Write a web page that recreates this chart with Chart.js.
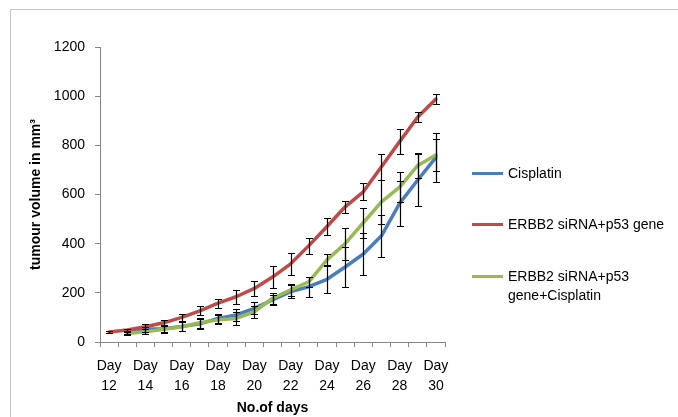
<!DOCTYPE html>
<html>
<head>
<meta charset="utf-8">
<script src="https://cdn.jsdelivr.net/npm/chart.js@4"></script>
<style>
  body { margin: 0; background: #fff; font-family: "Liberation Sans", Arial, sans-serif; }
  #wrap { position: relative; width: 678px; height: 417px; overflow: hidden; }
  #frame { position: absolute; left: 10px; top: 9px; right: -5px; bottom: -5px;
           border-left: 1px solid #c4c4c4; border-top: 1px solid #c4c4c4; }
  canvas { position: absolute; left: 0; top: 0; }
  .key { position: absolute; left: 472px; font-size: 14px; color: #000; line-height: 19px; }
  .key i { position: absolute; left: 0; top: 8px; width: 31px; height: 3px; }
  .key span { display: block; margin-left: 36px; white-space: nowrap; }
</style>
</head>
<body>
<div id="wrap">
  <div id="frame"></div>
  <canvas id="growth" width="678" height="417"></canvas>
  <div class="key" style="top:164px"><i style="background:#4a7ebb"></i><span>Cisplatin</span></div>
  <div class="key" style="top:215px"><i style="background:#be4b48"></i><span>ERBB2 siRNA+p53 gene</span></div>
  <div class="key" style="top:267px"><i style="background:#98b954"></i><span>ERBB2 siRNA+p53<br>gene+Cisplatin</span></div>
</div>
<script>
const days = [12, 13, 14, 15, 16, 17, 18, 19, 20, 21, 22, 23, 24, 25, 26, 27, 28, 29, 30];

const cisplatin      = [null, 38, 52, 54, 63, 74, 96, 110, 137, 171, 205, 225, 255, 305, 358, 432, 564, 659, 751];
const cisplatinErr   = [null, 5, 10, 15, 18, 20, 18, 25, 25, 22, 25, 40, 57, 80, 85, 85, 92, 105, 100];

const sirnaP53       = [41, 49, 62, 78, 100, 127, 158, 184, 218, 264, 318, 392, 470, 550, 611, 713, 815, 915, 988];
const sirnaP53Err    = [3, 5, 10, 12, 15, 18, 18, 28, 29, 46, 44, 33, 34, 25, 34, 53, 50, 20, 20];

const sirnaP53Cis    = [null, 35, 42, 52, 62, 78, 90, 96, 123, 178, 212, 245, 334, 400, 485, 570, 630, 718, 761];
const sirnaP53CisErr = [null, 5, 10, 15, 18, 20, 18, 25, 25, 22, 25, 20, 24, 65, 60, 90, 60, 50, 65];

const axisGrey = "#868686";
const font = "'Liberation Sans', Arial, sans-serif";

// vertical whiskers with caps, drawn from each dataset's `errors` array
const errorBars = {
	id: "errorBars",
	afterDatasetsDraw(chart) {
		const { ctx } = chart;
		const y = chart.scales.y;
		ctx.save();
		ctx.strokeStyle = "#000";
		ctx.lineWidth = 1.2;
		chart.data.datasets.forEach((ds, di) => {
			const meta = chart.getDatasetMeta(di);
			ds.errors.forEach((e, i) => {
				const v = ds.data[i];
				if (v == null || e == null) return;
				const x = Math.round(meta.data[i].x) + 0.5;
				const top = Math.round(y.getPixelForValue(v + e)) + 0.5;
				const bot = Math.round(y.getPixelForValue(v - e)) + 0.5;
				ctx.beginPath();
				ctx.moveTo(x, top);
				ctx.lineTo(x, bot);
				ctx.moveTo(x - 3.5, top);
				ctx.lineTo(x + 3.5, top);
				ctx.moveTo(x - 3.5, bot);
				ctx.lineTo(x + 3.5, bot);
				ctx.stroke();
			});
		});
		ctx.restore();
	},
};

function series(label, data, errors, color, order) {
	return {
		label,
		data,
		errors,
		borderColor: color,
		backgroundColor: color,
		borderWidth: 3.5,
		borderJoinStyle: "round",
		borderCapStyle: "round",
		pointRadius: 0,
		tension: 0,
		order,
	};
}

new Chart(document.getElementById("growth"), {
	type: "line",
	data: {
		labels: days.map((d) => "Day " + d),
		datasets: [
			series("Cisplatin", cisplatin, cisplatinErr, "#4a7ebb", 2),
			series("ERBB2 siRNA+p53 gene", sirnaP53, sirnaP53Err, "#be4b48", 1),
			series("ERBB2 siRNA+p53 gene+Cisplatin", sirnaP53Cis, sirnaP53CisErr, "#98b954", 0),
		],
	},
	plugins: [errorBars],
	options: {
		responsive: false,
		animation: false,
		layout: { padding: { left: 0, right: 233, top: 47, bottom: 0 } },
		plugins: {
			legend: { display: false },
			tooltip: { enabled: false },
		},
		scales: {
			x: {
				offset: true,
				afterFit: (s) => { s.height = 75; },
				grid: {
					offset: true,
					drawOnChartArea: false,
					color: axisGrey,
					tickLength: 5,
				},
				border: { color: axisGrey, width: 1 },
				ticks: {
					autoSkip: false,
					maxRotation: 0,
					padding: 9,
					color: "#000",
					font: { family: font, size: 14, lineHeight: 1.43 },
					callback: (v, i) => (i % 2 === 0 ? ["Day", String(days[i])] : ""),
				},
				title: {
					display: true,
					text: "No.of days",
					color: "#000",
					font: { family: font, size: 14, weight: "bold" },
					padding: { top: 0, bottom: 0 },
				},
			},
			y: {
				min: 0,
				max: 1200,
				afterFit: (s) => { s.width = 100; },
				grid: {
					drawOnChartArea: false,
					color: axisGrey,
					tickLength: 5,
				},
				border: { color: axisGrey, width: 1 },
				ticks: {
					stepSize: 200,
					padding: 10,
					color: "#000",
					font: { family: font, size: 14 },
					callback: (v) => String(v),
				},
				title: {
					display: true,
					text: "tumour volume in mm³",
					color: "#000",
					font: { family: font, size: 14, weight: "bold" },
					padding: { top: 28, bottom: 0 },
				},
			},
		},
	},
});
</script>
</body>
</html>
